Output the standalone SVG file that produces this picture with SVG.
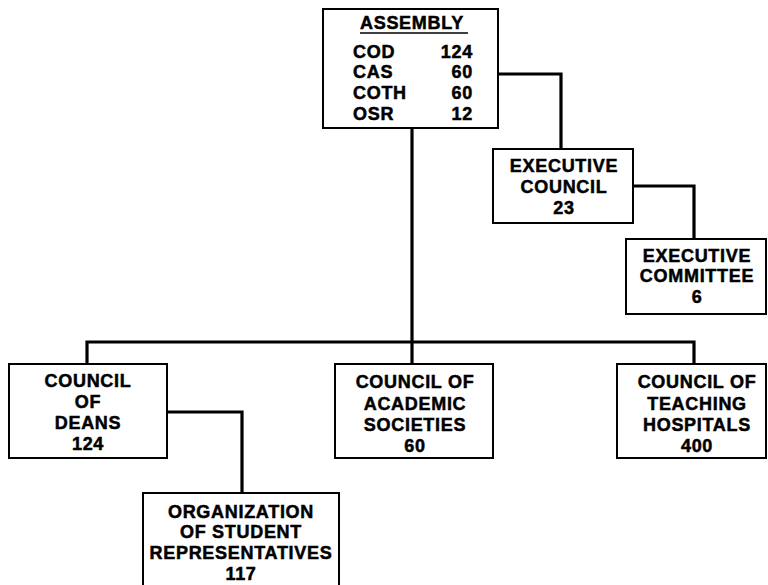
<svg xmlns="http://www.w3.org/2000/svg" width="768" height="585" viewBox="0 0 768 585">
<style>
.box{fill:#fff;stroke:#000;stroke-width:2}
.con{fill:none;stroke:#000;stroke-width:3.2}
text{font-family:"Liberation Sans",Arial,sans-serif;font-weight:bold;font-size:18px;letter-spacing:0.7px;fill:#000;stroke:#000;stroke-width:0.5}
.c{text-anchor:middle}
.r{text-anchor:end}
</style>
<rect width="768" height="585" fill="#fff"/>
<g id="connectors">
<path class="con" d="M412,128 V364"/>
<path class="con" d="M87,364 V342 H694 V364"/>
<path class="con" d="M498,74 H561 V149"/>
<path class="con" d="M633,186 H694 V239"/>
<path class="con" d="M167,412 H242 V493"/>
</g>
<g id="assembly">
<rect class="box" x="323" y="9" width="175" height="119"/>
<text x="360" y="29">ASSEMBLY</text>
<line x1="360" y1="33" x2="468" y2="33" stroke="#000" stroke-width="1.5"/>
<text x="353" y="58">COD</text><text class="r" x="473" y="58">124</text>
<text x="353" y="78">CAS</text><text class="r" x="473" y="78">60</text>
<text x="353" y="99">COTH</text><text class="r" x="473" y="99">60</text>
<text x="353" y="120">OSR</text><text class="r" x="473" y="120">12</text>
</g>
<g id="executive-council">
<rect class="box" x="493" y="149" width="140" height="74"/>
<text class="c" x="564" y="172">EXECUTIVE</text>
<text class="c" x="564" y="193">COUNCIL</text>
<text class="c" x="564" y="214">23</text>
</g>
<g id="executive-committee">
<rect class="box" x="626" y="239" width="140" height="75"/>
<text class="c" x="697" y="262">EXECUTIVE</text>
<text class="c" x="697" y="282">COMMITTEE</text>
<text class="c" x="697" y="303">6</text>
</g>
<g id="council-of-deans">
<rect class="box" x="9" y="364" width="158" height="94"/>
<text class="c" x="88" y="387">COUNCIL</text>
<text class="c" x="88" y="408">OF</text>
<text class="c" x="88" y="429">DEANS</text>
<text class="c" x="88" y="450">124</text>
</g>
<g id="council-of-academic-societies">
<rect class="box" x="335" y="364" width="158" height="94"/>
<text class="c" x="415" y="388">COUNCIL OF</text>
<text class="c" x="415" y="410">ACADEMIC</text>
<text class="c" x="415" y="431">SOCIETIES</text>
<text class="c" x="415" y="452">60</text>
</g>
<g id="council-of-teaching-hospitals">
<rect class="box" x="617" y="364" width="149" height="94"/>
<text class="c" x="697" y="388">COUNCIL OF</text>
<text class="c" x="697" y="410">TEACHING</text>
<text class="c" x="697" y="431">HOSPITALS</text>
<text class="c" x="697" y="452">400</text>
</g>
<g id="organization-of-student-representatives">
<rect class="box" x="143" y="493" width="196" height="100"/>
<text class="c" x="241" y="518">ORGANIZATION</text>
<text class="c" x="241" y="538">OF STUDENT</text>
<text class="c" x="241" y="559">REPRESENTATIVES</text>
<text class="c" x="241" y="580">117</text>
</g>
</svg>
